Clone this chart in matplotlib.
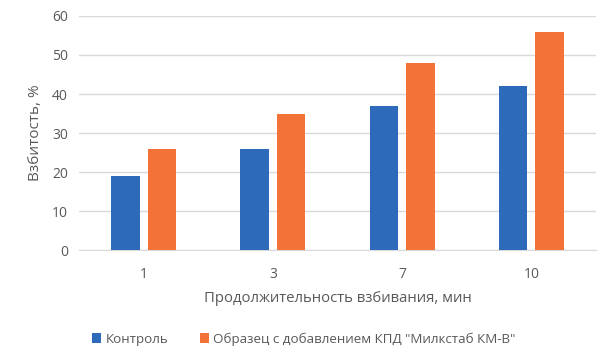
import numpy as np
import matplotlib
matplotlib.use("Agg")
import matplotlib.pyplot as plt

# Данные с графика
categories = ["1", "3", "7", "10"]
control = [19, 26, 37, 42]
sample = [26, 35, 48, 56]
series_names = ["Контроль", 'Образец с добавлением КПД "Милкстаб КМ-В"']

plt.rcParams['font.family'] = ['Open Sans', 'DejaVu Sans']

fig = plt.figure(figsize=(6.07, 3.63), dpi=100)
ax = fig.add_axes([0.130, 0.311, 0.852, 0.645])

x = np.arange(len(categories))
width = 0.22
ax.bar(x - 0.141, control, width, color='#2D6BBA', label=series_names[0], zorder=3)
ax.bar(x + 0.141, sample, width, color='#F27237', label=series_names[1], zorder=3)

ax.set_xlim(-0.5, len(categories) - 0.5)
ax.set_ylim(0, 60)
ax.set_yticks(range(0, 61, 10))
ax.set_xticks(x)
ax.set_xticklabels(categories)

ax.grid(axis='y', color='#D9D9D9', linewidth=1, zorder=0)
for s in ['left', 'right', 'top']:
    ax.spines[s].set_visible(False)
ax.spines['bottom'].set_color('#D9D9D9')
ax.tick_params(length=0, labelsize=10, colors='#595959')
ax.tick_params(axis='x', pad=12)
ax.tick_params(axis='y', pad=8)

ax.set_xlabel('Продолжительность взбивания, мин', fontsize=10.7, color='#595959', labelpad=7)
ax.set_ylabel('Взбитость, %', fontsize=11, color='#595959', labelpad=6)

ax.legend(loc='upper center', bbox_to_anchor=(0.435, -0.30), ncol=2, frameon=False,
          fontsize=9.6, labelcolor='#595959', handlelength=0.7, handleheight=0.7,
          handletextpad=0.3, columnspacing=2.4)

fig.savefig('out.png', dpi=100)
